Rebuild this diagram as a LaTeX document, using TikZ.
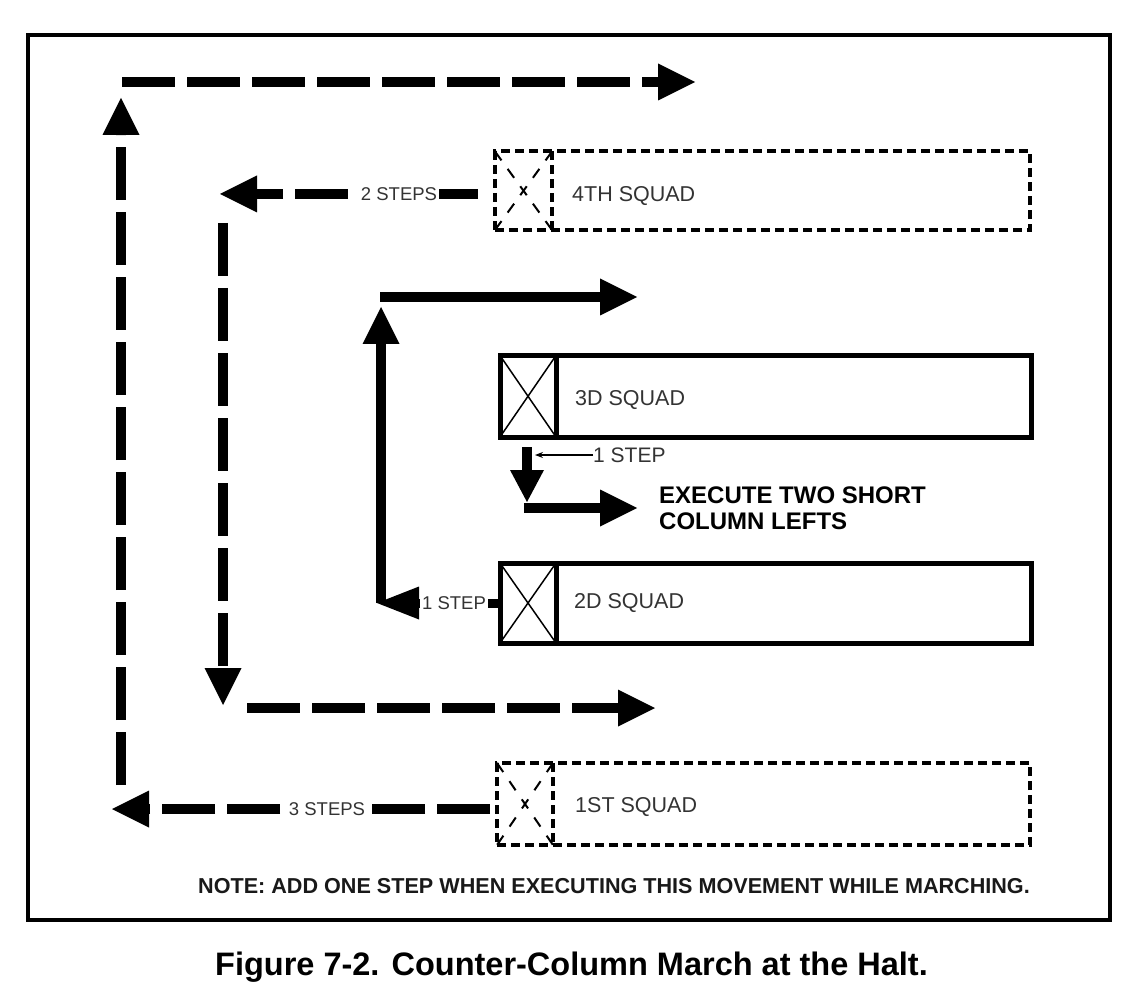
\documentclass[tikz,border=0pt]{standalone}
\usepackage{fontspec}
\setmainfont{Liberation Sans}
\usetikzlibrary{arrows.meta}
\tikzset{
  sq/.style={draw, line width=5pt, inner sep=0pt, outer sep=0pt},
  dsq/.style={draw, line width=4pt, dash pattern=on 9pt off 5pt, inner sep=0pt, outer sep=0pt},
  cell/.style={inner sep=0pt, outer sep=0pt},
  dline/.style={line width=4pt, dash pattern=on 9pt off 5pt},
  dx/.style={line width=2pt, dash pattern=on 11pt off 10.5pt},
  lbl/.style={font=\fontsize{21.5}{24}\selectfont, text=black!80, anchor=west, inner sep=0pt},
  steplbl/.style={font=\fontsize{18.5}{20}\selectfont, text=black!80, fill=white, inner sep=2pt},
  big/.style={line width=10.5pt, -{Triangle[length=37pt,width=37pt,line width=0pt]}},
  dashy/.style={dash pattern=on 53pt off 12pt},
}
\begin{document}
\begin{tikzpicture}[x=1pt,y=-1pt]
\useasboundingbox (0,0) rectangle (1146,992);
% frame
\node[draw, line width=4pt, minimum width=1082pt, minimum height=884.5pt, inner sep=0pt, outer sep=0pt] (frame) at (569,477.25) {};

% coordinates
\coordinate (c3tip) at (112,809);
\coordinate (lvb) at (121,785);
\coordinate (lvt) at (121,98);
\coordinate (th0) at (122,82);
\coordinate (th1) at (695,82);
\coordinate (s2tip) at (220,194);
\coordinate (mvt) at (223,223);
\coordinate (mvb) at (223,705);
\coordinate (bh0) at (247,708);
\coordinate (bh1) at (655,708);
\coordinate (uvb) at (381,603);
\coordinate (uvt) at (381,307);
\coordinate (uh0) at (380,297);
\coordinate (uh1) at (637,297);
\coordinate (st2tip) at (377,603);
\coordinate (d1) at (527,502);
\coordinate (r0) at (524,508);
\coordinate (r1) at (637,508);
\coordinate (ptip) at (535,455);

% 4TH squad (dashed)
\node[dsq, minimum width=535pt, minimum height=78.5pt] (sq4) at (762.5,190.75) {};
\node[cell, minimum width=57pt, minimum height=78.5pt] (x4) at (523.5,190.75) {};
\draw[dline] (x4.north east) -- (x4.south east);
\draw[dx] (x4.north west) -- (x4.south east);
\draw[dx] (x4.north east) -- (x4.south west);
\node[lbl] (l4) at (572,196) {4TH SQUAD};

% 3D squad
\node[cell, minimum width=56pt, minimum height=81.5pt] (x3) at (528,396.25) {};
\draw[line width=1.5pt] (x3.north west) -- (x3.south east) (x3.south west) -- (x3.north east);
\draw[line width=5pt] (x3.north east) -- (x3.south east);
\node[sq, minimum width=531pt, minimum height=81.5pt] (sq3) at (765.5,396.25) {};
\node[lbl] (l3) at (575,400) {3D SQUAD};

% 2D squad
\node[cell, minimum width=56pt, minimum height=80pt] (x2) at (528,603) {};
\draw[line width=1.5pt] (x2.north west) -- (x2.south east) (x2.south west) -- (x2.north east);
\draw[line width=5pt] (x2.north east) -- (x2.south east);
\node[sq, minimum width=531pt, minimum height=80pt] (sq2) at (765.5,603) {};
\node[lbl] (l2) at (574,603.5) {2D SQUAD};

% 1ST squad (dashed)
\node[dsq, minimum width=533pt, minimum height=82pt] (sq1) at (763.5,804) {};
\node[cell, minimum width=56pt, minimum height=82pt] (x1) at (525,804) {};
\draw[dline] (x1.north east) -- (x1.south east);
\draw[dx, dash pattern=on 11pt off 11pt] (x1.north west) -- (x1.south east);
\draw[dx, dash pattern=on 11pt off 11pt] (x1.north east) -- (x1.south west);
\node[lbl] (l1) at (575,807) {1ST SQUAD};

% dashed movement (1st and 4th squads)
\draw[big,shorten <=7pt, dash pattern=on 53pt off 12pt on 53pt off 12pt on 53pt off 27pt on 53pt off 12pt on 53pt off 12pt] (sq1.west |- c3tip) -- (c3tip);
\node[steplbl] (t3) at (327,809) {3 STEPS};
\draw[big,dashy] (lvb) -- (lvt);
\draw[big,dashy] (th0) -- (th1);

\draw[big,dashy,shorten <=17pt] (sq4.west |- s2tip) -- (s2tip);
\node[steplbl] (t2) at (399,194) {2 STEPS};
\draw[big,dashy] (mvt) -- (mvb);
\draw[big,dashy] (bh0) -- (bh1);

% solid movement (2d and 3d squads)
\draw[big] (uvb) -- (uvt);
\draw[big] (uh0) -- (uh1);
\draw[line width=9pt, -{Triangle[length=42pt,width=33pt,line width=0pt]}] (sq2.west |- st2tip) -- (st2tip);
\node[steplbl] (t1b) at (454,603) {1 STEP};

\draw[line width=10pt, shorten <=10pt, -{Triangle[length=32pt,width=34pt,line width=0pt]}] (sq3.south -| d1) -- (d1);
\draw[line width=10pt, -{Triangle[length=37pt,width=37pt,line width=0pt]}] (r0) -- (r1);

\node[font=\fontsize{21}{24}\selectfont, text=black!80, anchor=west, inner sep=0pt] (t1a) at (593,455) {1 STEP};
\draw[line width=1.2pt, -{Stealth[length=8pt,width=6pt]}] (t1a.west) -- (ptip);

\node[anchor=north west, align=left, font=\bfseries\fontsize{24}{26.5}\selectfont, inner sep=0pt] (ex) at (659,486.5) {EXECUTE TWO SHORT\\COLUMN LEFTS};

\node[anchor=base west, font=\bfseries\fontsize{21.6}{24}\selectfont, text=black!90, inner sep=0pt] (note) at (198,893) {NOTE: ADD ONE STEP WHEN EXECUTING THIS MOVEMENT WHILE MARCHING.};

\node[anchor=base west, font=\bfseries\fontsize{32.5}{36}\selectfont, inner sep=0pt] (title) at (215,975) {Figure 7-2. Counter-Column March at the Halt.};
\end{tikzpicture}
\end{document}
